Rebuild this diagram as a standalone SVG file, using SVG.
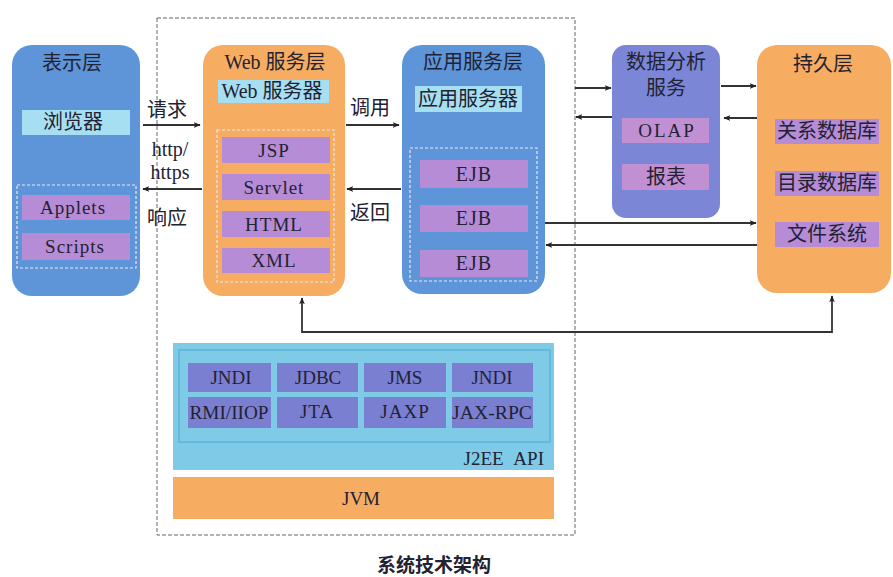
<svg xmlns="http://www.w3.org/2000/svg" width="893" height="577" viewBox="0 0 893 577">
<defs>
<style>
text{font-family:"Liberation Serif","Noto Sans CJK SC",serif;fill:#222233;text-anchor:middle;}
.t{font-size:20px;}
.b{font-size:19px;}
.l{letter-spacing:1px;}
.blue{fill:#5e95d9;}
.orange{fill:#f6ad62;}
.violet{fill:#7b87d6;}
.cyan{fill:#a6def2;}
.purple{fill:#b78cd6;}
.pink{fill:#c190d3;}
.cell{fill:#7b7fd2;}
.dash{fill:none;stroke:#e8e8f0;stroke-width:1.2;stroke-dasharray:3 2;}
.outer{fill:none;stroke:#666;stroke-width:1;stroke-dasharray:4 2;}
.ln{fill:none;stroke:#333;stroke-width:1.8;}
</style>
<marker id="ah" viewBox="0 0 10 10" refX="9" refY="5" markerWidth="7" markerHeight="7" orient="auto-start-reverse" markerUnits="userSpaceOnUse">
<path d="M0,1 L10,5 L0,9 L2.5,5 Z" fill="#222"/>
</marker>
</defs>
<rect width="893" height="577" fill="#ffffff"/>

<rect id="boundary" class="outer" x="157" y="18" width="418" height="517"/>

<g id="presentation">
<rect class="blue" x="12" y="45" width="128" height="251" rx="20"/>
<text class="t" x="72" y="70">表示层</text>
<rect class="cyan" x="22" y="110" width="108" height="25"/>
<text class="t" x="73" y="129">浏览器</text>
<rect class="dash" x="17" y="185" width="119" height="83"/>
<rect class="purple" x="22" y="195" width="108" height="25"/>
<text class="b l" x="73" y="214">Applets</text>
<rect class="purple" x="22" y="233" width="108" height="27"/>
<text class="b l" x="75" y="253">Scripts</text>
</g>

<g id="web">
<rect class="orange" x="203" y="45" width="142" height="251" rx="20"/>
<text class="t" x="275" y="69">Web 服务层</text>
<rect class="cyan" x="218" y="80" width="111" height="23"/>
<text class="t" x="272" y="98">Web 服务器</text>
<rect class="dash" x="217" y="130" width="117" height="152"/>
<rect class="purple" x="222" y="137" width="108" height="26"/>
<text class="b l" x="274" y="157">JSP</text>
<rect class="purple" x="222" y="174" width="108" height="26"/>
<text class="b l" x="274" y="194">Servlet</text>
<rect class="purple" x="222" y="211" width="108" height="26"/>
<text class="b l" x="274" y="231">HTML</text>
<rect class="purple" x="222" y="248" width="108" height="25"/>
<text class="b l" x="274" y="267">XML</text>
</g>

<g id="app">
<rect class="blue" x="402" y="45" width="143" height="249" rx="20"/>
<text class="t" x="473" y="69">应用服务层</text>
<rect class="cyan" x="415" y="86" width="107" height="26"/>
<text class="t" x="468" y="106">应用服务器</text>
<rect class="dash" x="410" y="148" width="127" height="133"/>
<rect class="purple" x="420" y="160" width="108" height="28"/>
<text class="t l" x="474" y="181">EJB</text>
<rect class="purple" x="420" y="205" width="108" height="27"/>
<text class="t l" x="474" y="225">EJB</text>
<rect class="purple" x="420" y="250" width="108" height="27"/>
<text class="t l" x="474" y="270">EJB</text>
</g>

<g id="analysis">
<rect class="violet" x="612" y="45" width="108" height="173" rx="14"/>
<text class="t" x="666" y="69">数据分析</text>
<text class="t" x="666" y="95">服务</text>
<rect class="pink" x="622" y="118" width="87" height="25"/>
<text class="b" x="667" y="137" style="letter-spacing:2px">OLAP</text>
<rect class="pink" x="622" y="164" width="87" height="26"/>
<text class="t" x="666" y="184">报表</text>
</g>

<g id="persistence">
<rect class="orange" x="757" y="45" width="134" height="248" rx="20"/>
<text class="t" x="823" y="71">持久层</text>
<rect class="purple" x="775" y="119" width="104" height="25"/>
<text class="t" x="827" y="138">关系数据库</text>
<rect class="purple" x="775" y="171" width="104" height="25"/>
<text class="t" x="827" y="190">目录数据库</text>
<rect class="purple" x="775" y="222" width="104" height="25"/>
<text class="t" x="827" y="241">文件系统</text>
</g>

<g id="j2ee">
<rect x="173" y="343" width="381" height="127" fill="#7fcbe7"/>
<rect x="179" y="350" width="371" height="92" fill="none" stroke="#5ab4dc" stroke-width="1.5"/>
<rect class="cell" x="188" y="363" width="83" height="29"/>
<text class="b" x="231" y="384">JNDI</text>
<rect class="cell" x="277" y="363" width="81" height="29"/>
<text class="b" x="318" y="384">JDBC</text>
<rect class="cell" x="364" y="363" width="82" height="29"/>
<text class="b" x="405" y="384">JMS</text>
<rect class="cell" x="452" y="363" width="81" height="29"/>
<text class="b" x="492" y="384">JNDI</text>
<rect class="cell" x="188" y="397" width="83" height="31"/>
<text class="b" x="229" y="419" textLength="79" lengthAdjust="spacingAndGlyphs">RMI/IIOP</text>
<rect class="cell" x="277" y="397" width="81" height="31"/>
<text class="b l" x="317" y="418">JTA</text>
<rect class="cell" x="364" y="397" width="82" height="31"/>
<text class="b l" x="405" y="418">JAXP</text>
<rect class="cell" x="452" y="397" width="81" height="31"/>
<text class="b" x="492" y="419" textLength="80" lengthAdjust="spacingAndGlyphs">JAX-RPC</text>
<text class="b" x="544" y="465" style="text-anchor:end;word-spacing:6px">J2EE API</text>
</g>

<g id="jvm">
<rect class="orange" x="173" y="477" width="381" height="42"/>
<text class="b" x="361" y="505">JVM</text>
</g>

<g id="connectors">
<line class="ln" x1="143" y1="125" x2="200" y2="125" marker-end="url(#ah)"/>
<line class="ln" x1="202" y1="189" x2="143" y2="189" marker-end="url(#ah)"/>
<line class="ln" x1="346" y1="125" x2="399" y2="125" marker-end="url(#ah)"/>
<line class="ln" x1="401" y1="189" x2="347" y2="189" marker-end="url(#ah)"/>
<line class="ln" x1="575" y1="88" x2="611" y2="88" marker-end="url(#ah)"/>
<line class="ln" x1="612" y1="117" x2="576" y2="117" marker-end="url(#ah)"/>
<line class="ln" x1="721" y1="86" x2="756" y2="86" marker-end="url(#ah)"/>
<line class="ln" x1="757" y1="118" x2="724" y2="118" marker-end="url(#ah)"/>
<line class="ln" x1="545" y1="223" x2="756" y2="223" marker-end="url(#ah)"/>
<line class="ln" x1="757" y1="245" x2="546" y2="245" marker-end="url(#ah)"/>
<path class="ln" d="M302,298 V332 H832 V296" marker-start="url(#ah)" marker-end="url(#ah)"/>
<text class="t" x="167" y="117">请求</text>
<text class="t" x="170" y="156">http/</text>
<text class="t" x="170" y="179">https</text>
<text class="t" x="167" y="225">响应</text>
<text class="t" x="370" y="115">调用</text>
<text class="t" x="370" y="220">返回</text>
</g>

<text x="434" y="572" style="font-family:'Noto Sans CJK SC',sans-serif;font-size:19px;font-weight:bold">系统技术架构</text>
</svg>
